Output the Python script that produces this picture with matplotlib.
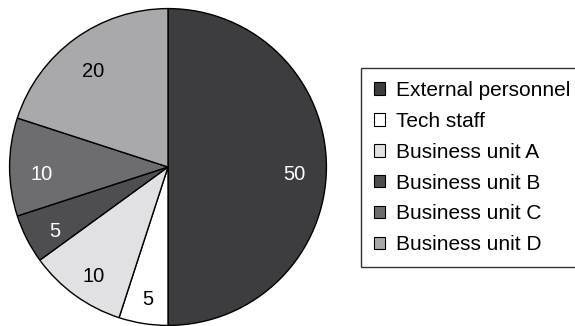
import matplotlib.pyplot as plt
from matplotlib.patches import Patch

plt.rcParams['font.family'] = ['Liberation Sans', 'DejaVu Sans']

groups = ['External personnel', 'Tech staff', 'Business unit A',
          'Business unit B', 'Business unit C', 'Business unit D']
shares = [50, 5, 10, 5, 10, 20]
colors = ['#3d3d3f', '#ffffff', '#e1e1e3', '#4e4e50', '#6d6d6f', '#a9a9ab']
text_colors = ['white', 'black', 'black', 'white', 'white', 'black']

fig = plt.figure(figsize=(5.75, 3.26), dpi=100)
ax = fig.add_axes([8 / 575, -1 / 326, 320 / 575, 320 / 326])

wedges, labels, values = ax.pie(
    shares, colors=colors, startangle=90, counterclock=False,
    autopct=lambda p: f'{p:.0f}', pctdistance=0.8,
    wedgeprops=dict(edgecolor='black', linewidth=1.0),
    textprops=dict(fontsize=14.5))
# value labels sit a little below the slice midline
for t, c in zip(values, text_colors):
    t.set_color(c)
    x, y = t.get_position()
    t.set_position((x, y - 0.045))
ax.set_xlim(-1.01, 1.01)
ax.set_ylim(-1.01, 1.01)
ax.set_aspect('equal')
ax.axis('off')

handles = [Patch(facecolor=c, edgecolor='black', linewidth=0.8) for c in colors]
leg = fig.legend(handles, groups, loc='upper left',
                 bbox_to_anchor=(361 / 575, 1 - 68 / 326),
                 fontsize=15, frameon=True, fancybox=False,
                 handlelength=0.55, handleheight=0.55, handletextpad=0.5,
                 labelspacing=0.57, borderpad=0.62, borderaxespad=0)
leg.get_frame().set_edgecolor('black')
leg.get_frame().set_linewidth(1.0)

fig.savefig('out.png', dpi=100)
